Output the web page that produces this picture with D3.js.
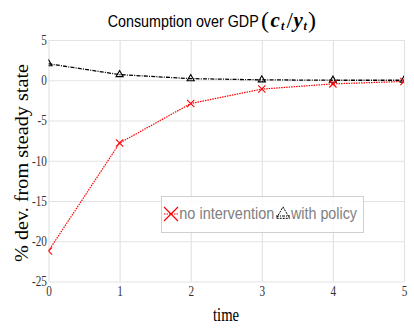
<!DOCTYPE html>
<html>
<head>
<meta charset="utf-8">
<script src="https://cdn.jsdelivr.net/npm/d3@7/dist/d3.min.js"></script>
<style>
  html, body { margin: 0; padding: 0; background: #fff; }
  svg { display: block; }
</style>
</head>
<body>
<svg id="chart" width="414" height="330"></svg>
<script>
// Periods after the shock
const periods = [0, 1, 2, 3, 4, 5];
// Consumption/GDP, % deviation from steady state
const noIntervention = [-21.2, -7.8, -2.9, -1.1, -0.45, -0.15];
const withPolicy = [2.05, 0.7, 0.2, 0.05, 0.0, 0.0];
const yTicks = [-25, -20, -15, -10, -5, 0, 5];
const xTicks = [0, 1, 2, 3, 4, 5];
const seriesNames = ["no intervention", "with policy"];

const SERIF = "'Liberation Serif', 'Times New Roman', Times, serif";
const SANS = "'Liberation Sans', Arial, Helvetica, sans-serif";

const svg = d3.select("#chart");
const plotLeft = 48.5, plotRight = 404, plotTop = 40, plotBottom = 281.5;
const SQ = 0.8; // horizontal text compression

const x = d3.scaleLinear().domain([0, 5]).range([plotLeft, plotRight]);
const y = d3.scaleLinear().domain([-25, 5]).range([plotBottom, plotTop]);

// Grid + tick labels
const yAxis = svg.append("g")
  .attr("transform", `translate(${plotLeft},0)`)
  .call(d3.axisLeft(y).tickValues(yTicks).tickFormat(d => String(d))
    .tickSizeInner(-(plotRight - plotLeft)).tickSizeOuter(0).tickPadding(2));
const xAxis = svg.append("g")
  .attr("transform", `translate(0,${plotBottom})`)
  .call(d3.axisBottom(x).tickValues(xTicks).tickFormat(d => String(d))
    .tickSizeInner(-(plotBottom - plotTop)).tickSizeOuter(0).tickPadding(5));

[yAxis, xAxis].forEach(g => {
  g.attr("font-family", null).attr("font-size", null);
  g.select(".domain").remove();
  g.selectAll(".tick line").attr("stroke", "#e3e3e3").attr("stroke-width", 1.2);
  g.selectAll(".tick text")
    .attr("fill", "#333")
    .style("font-family", SERIF)
    .style("font-size", "14px")
    .attr("transform", `scale(${SQ},1)`);
});

// Clip marks to the plotting region
svg.append("clipPath").attr("id", "plotClip")
  .append("rect").attr("x", plotLeft).attr("y", plotTop - 10)
  .attr("width", plotRight - plotLeft).attr("height", plotBottom - plotTop + 10);

const plot = svg.append("g").attr("clip-path", "url(#plotClip)");
const line = d3.line().x((d, i) => x(periods[i])).y(d => y(d));

// with policy: black dash-dot with hollow triangles
plot.append("path").datum(withPolicy)
  .attr("d", line).attr("fill", "none")
  .attr("stroke", "#000").attr("stroke-width", 1.3)
  .attr("stroke-dasharray", "4,1.2,1,1.2");

const tri = d3.symbol().type(d3.symbolTriangle).size(22);
plot.selectAll(".tri").data(withPolicy).join("path")
  .attr("transform", (d, i) => `translate(${x(periods[i])},${y(d)})`)
  .attr("d", tri).attr("fill", "none").attr("stroke", "#000").attr("stroke-width", 1.1);

// no intervention: red dotted with x markers
plot.append("path").datum(noIntervention)
  .attr("d", line).attr("fill", "none")
  .attr("stroke", "#ff0000").attr("stroke-width", 1.2)
  .attr("stroke-dasharray", "1.5,1");

const cross = d3.symbol().type(d3.symbolX).size(36);
plot.selectAll(".cross").data(noIntervention).join("path")
  .attr("transform", (d, i) => `translate(${x(periods[i])},${y(d)})`)
  .attr("d", cross).attr("fill", "none").attr("stroke", "#ff0000").attr("stroke-width", 1.1);

// Title
svg.append("text")
  .attr("x", 107.7).attr("y", 27)
  .attr("textLength", 151).attr("lengthAdjust", "spacingAndGlyphs")
  .style("font-family", SANS)
  .style("font-size", "17px").attr("fill", "#000")
  .text("Consumption over GDP");

// (c_t / y_t) typeset as one text element with positioned tspans
const mathParts = [
  { t: "(", x: 261, y: 28, size: 24, it: false },
  { t: "c", x: 270.5, y: 27, size: 21, it: true },
  { t: "t", x: 281, y: 30, size: 12, it: true },
  { t: "/", x: 286.5, y: 27.5, size: 23, it: false },
  { t: "y", x: 293.5, y: 27, size: 21, it: true },
  { t: "t", x: 303.5, y: 30, size: 12, it: true },
  { t: ")", x: 308, y: 28, size: 24, it: false }
];
svg.append("text")
  .style("font-family", SERIF).attr("fill", "#000")
  .selectAll("tspan").data(mathParts).join("tspan")
  .attr("x", d => d.x).attr("y", d => d.y)
  .style("font-size", d => d.size + "px")
  .style("font-style", d => d.it ? "italic" : "normal")
  .style("font-weight", d => d.it ? "bold" : "normal")
  .text(d => d.t);

// Axis titles
svg.append("text")
  .attr("x", 213).attr("y", 321)
  .attr("textLength", 26).attr("lengthAdjust", "spacingAndGlyphs")
  .style("font-family", SERIF)
  .style("font-size", "18px").attr("fill", "#000")
  .text("time");

svg.append("text")
  .attr("transform", "translate(27.5,262) rotate(-90)")
  .attr("x", 0).attr("y", 0)
  .attr("textLength", 198).attr("lengthAdjust", "spacingAndGlyphs")
  .style("font-family", SERIF)
  .style("font-size", "18px").attr("fill", "#000")
  .text("% dev. from steady state");

// Legend
const lg = svg.append("g");
lg.append("rect")
  .attr("x", 161.5).attr("y", 196.5).attr("width", 202).attr("height", 36)
  .attr("fill", "#fff").attr("fill-opacity", 0.85)
  .attr("stroke", "#d0d0d0").attr("stroke-width", 1);

lg.append("line").attr("x1", 164).attr("x2", 178).attr("y1", 214).attr("y2", 214)
  .attr("stroke", "#ff0000").attr("stroke-width", 1).attr("stroke-dasharray", "1.5,1");
lg.append("path")
  .attr("transform", "translate(171,214)")
  .attr("d", d3.symbol().type(d3.symbolX).size(130)())
  .attr("fill", "none").attr("stroke", "#ff0000").attr("stroke-width", 1.2);
lg.append("text")
  .attr("x", 179.3).attr("y", 219)
  .attr("textLength", 95).attr("lengthAdjust", "spacingAndGlyphs")
  .style("font-family", SANS)
  .style("font-size", "17px").attr("fill", "#808080")
  .text(seriesNames[0]);

lg.append("line").attr("x1", 276).attr("x2", 290).attr("y1", 216).attr("y2", 216)
  .attr("stroke", "#000").attr("stroke-width", 1).attr("stroke-dasharray", "3,1,1,1");
lg.append("path")
  .attr("transform", "translate(283,214.5)")
  .attr("d", d3.symbol().type(d3.symbolTriangle).size(75)())
  .attr("fill", "none").attr("stroke", "#000").attr("stroke-width", 1)
  .attr("stroke-dasharray", "2,1");
lg.append("text")
  .attr("x", 291).attr("y", 219)
  .attr("textLength", 66).attr("lengthAdjust", "spacingAndGlyphs")
  .style("font-family", SANS)
  .style("font-size", "17px").attr("fill", "#808080")
  .text(seriesNames[1]);
</script>
</body>
</html>
